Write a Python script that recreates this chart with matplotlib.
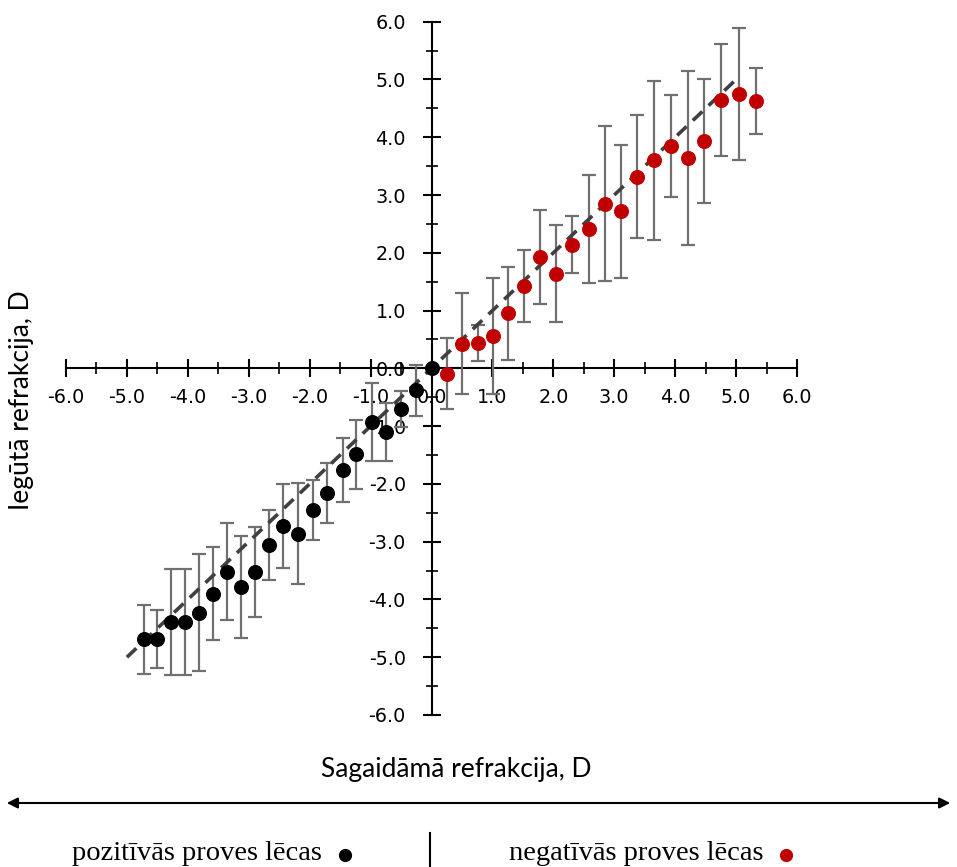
import matplotlib
matplotlib.use("Agg")
import matplotlib.pyplot as plt
from matplotlib.ticker import MultipleLocator, FuncFormatter
from matplotlib.patches import FancyArrowPatch
from matplotlib.lines import Line2D

plt.rcParams['axes.unicode_minus'] = False

# Positive test lenses (black)
pos_x = [-4.72, -4.50, -4.28, -4.05, -3.82, -3.58, -3.36, -3.12, -2.90, -2.66, -2.43,
         -2.19, -1.95, -1.72, -1.46, -1.24, -0.98, -0.74, -0.50, -0.26, 0.0]
pos_y = [-4.69, -4.69, -4.39, -4.39, -4.23, -3.90, -3.52, -3.78, -3.52, -3.06, -2.73,
         -2.86, -2.45, -2.15, -1.76, -1.49, -0.93, -1.10, -0.70, -0.38, 0.0]
pos_err = [0.60, 0.50, 0.92, 0.91, 1.01, 0.80, 0.84, 0.88, 0.78, 0.60, 0.72,
           0.87, 0.52, 0.52, 0.55, 0.59, 0.68, 0.50, 0.31, 0.44, 0.0]

# Negative test lenses (red)
neg_x = [0.25, 0.50, 0.76, 1.01, 1.26, 1.52, 1.78, 2.04, 2.31, 2.58,
         2.85, 3.11, 3.38, 3.66, 3.93, 4.21, 4.48, 4.76, 5.04, 5.33]
neg_y = [-0.09, 0.43, 0.44, 0.56, 0.95, 1.42, 1.93, 1.64, 2.14, 2.41,
         2.85, 2.72, 3.32, 3.60, 3.85, 3.64, 3.93, 4.65, 4.75, 4.63]
neg_err = [0.62, 0.87, 0.31, 1.01, 0.80, 0.62, 0.81, 0.84, 0.49, 0.94,
           1.34, 1.15, 1.07, 1.37, 0.88, 1.50, 1.07, 0.97, 1.14, 0.57]

# Ideal line y = x
ideal_x = [-5.0, 5.0]
ideal_y = [-5.0, 5.0]

xlabel = "Sagaidāmā refrakcija, D"
ylabel = "Iegūtā refrakcija, D"
legend_pos = "pozitīvās proves lēcas"
legend_neg = "negatīvās proves lēcas"

W, H = 957, 867
fig = plt.figure(figsize=(W / 100, H / 100), dpi=100)
x0, x1 = 66, 797
y_top, y_bot = 21.7, 715
ax = fig.add_axes([x0 / W, (H - y_bot) / H, (x1 - x0) / W, (y_bot - y_top) / H])
ax.set_xlim(-6, 6)
ax.set_ylim(-6, 6)
ax.patch.set_alpha(0)

for s in ['top', 'right']:
    ax.spines[s].set_visible(False)
for s in ['left', 'bottom']:
    ax.spines[s].set_position('zero')
    ax.spines[s].set_linewidth(1.5)

ax.xaxis.set_major_locator(MultipleLocator(1))
ax.xaxis.set_minor_locator(MultipleLocator(0.5))
ax.yaxis.set_major_locator(MultipleLocator(1))
ax.yaxis.set_minor_locator(MultipleLocator(0.5))
fmt = FuncFormatter(lambda v, p: f"{v:.1f}")
ax.xaxis.set_major_formatter(fmt)
ax.yaxis.set_major_formatter(fmt)
ax.tick_params(which='major', direction='inout', length=13, width=1.5,
               labelsize=13.8)
ax.tick_params(which='minor', direction='inout', length=9, width=1.2)
ax.tick_params(axis='x', which='major', pad=8)
ax.tick_params(axis='y', which='major', pad=12)
for lab in ax.get_xticklabels() + ax.get_yticklabels():
    lab.set_family('DejaVu Sans')

errc = '#707070'
ax.errorbar(pos_x, pos_y, yerr=pos_err, fmt='none', ecolor=errc, elinewidth=1.6,
            capsize=5, capthick=1.6, zorder=3, clip_on=False)
ax.errorbar(neg_x, neg_y, yerr=neg_err, fmt='none', ecolor=errc, elinewidth=1.6,
            capsize=5, capthick=1.6, zorder=3, clip_on=False)
ax.plot(ideal_x, ideal_y, color='#404040', lw=2.6, dashes=(3.6, 2.4), zorder=4,
        solid_capstyle='butt', dash_capstyle='butt')
ax.plot(pos_x, pos_y, 'o', color='black', ms=9.8, zorder=5, clip_on=False)
ax.plot(neg_x, neg_y, 'o', color='#C00000', ms=9.8, zorder=5, clip_on=False)

# Axis titles
fig.text(456 / W, 1 - 769 / H, xlabel, ha='center', va='center',
         fontsize=19, family='Lato')
fig.text(22 / W, 1 - 400 / H, ylabel, ha='center', va='center', rotation=90,
         fontsize=19, family='Lato')

# Double-headed arrow
arr = FancyArrowPatch((4 / W, 1 - 803 / H), (953 / W, 1 - 803 / H),
                      transform=fig.transFigure, arrowstyle='<|-|>',
                      mutation_scale=16, color='black', lw=1.5)
fig.patches.append(arr)

# Legend row
serif = ['Liberation Serif', 'DejaVu Serif']
fig.text(72 / W, 1 - 853 / H, legend_pos, ha='left', va='center',
         fontsize=20.5, family=serif)
fig.text(509 / W, 1 - 853 / H, legend_neg, ha='left', va='center',
         fontsize=20.5, family=serif)
fig.lines.append(Line2D([345 / W], [1 - 855 / H], marker='o', color='black',
                        ms=8.5, transform=fig.transFigure))
fig.lines.append(Line2D([786 / W], [1 - 855 / H], marker='o', color='#C00000',
                        ms=8.5, transform=fig.transFigure))
fig.lines.append(Line2D([430 / W, 430 / W], [1 - 833 / H, 0.0], color='black',
                        lw=1.5, transform=fig.transFigure))

fig.savefig('out.png', dpi=100)
